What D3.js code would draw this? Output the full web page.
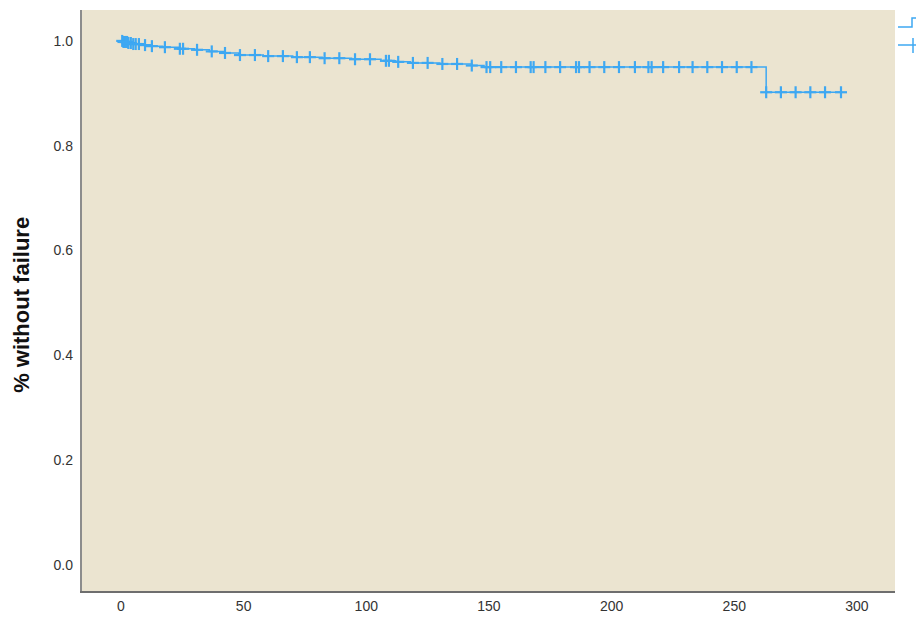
<!DOCTYPE html>
<html lang="en">
<head>
<meta charset="UTF-8">
<title>% without failure</title>
<style>
  body, html { margin: 0; padding: 0; background: #fff; font-family: "Liberation Sans", Arial, sans-serif; }
  #chart { width: 916px; height: 617px; overflow: hidden; }
</style>
<script src="https://d3js.org/d3.v7.min.js"></script>
</head>
<body>
<div id="chart"></div>
<script>
// event times (steps) and the survival level after each one
const eventTimes = [1, 3, 5, 8, 12, 17, 24, 30, 36, 42, 48, 58, 70, 82, 94, 106, 112, 118, 130, 143, 148, 263];
const survival = [0.998, 0.996, 0.994, 0.992, 0.990, 0.988, 0.985, 0.983, 0.980, 0.977, 0.973, 0.971, 0.969, 0.967, 0.965, 0.962, 0.960, 0.958, 0.956, 0.953, 0.950, 0.902];
// censored observations
const censorTimes = [0.5, 1, 1.5, 2, 2.5, 3, 4, 5, 6, 7.3, 9.8, 12.6, 17.9, 24, 25.3, 31, 37, 42.4, 48.5, 54.6, 60,
  66, 71.7, 77, 83, 89, 95.4, 101.5, 108, 109.2, 113, 119, 125, 131, 137, 143, 149, 150.5, 155, 161, 167, 168.2,
  173, 179, 185.5, 186.7, 191, 197, 203, 209.5, 215, 216.3, 221, 227.5, 233, 239, 245, 251, 257, 263, 269, 275, 281, 287, 293.5];
const xTicks = [0, 50, 100, 150, 200, 250, 300];
const yTicks = [0.0, 0.2, 0.4, 0.6, 0.8, 1.0];

const width = 916, height = 617;
const blue = "#3ea8f2";
const svg = d3.select("#chart").append("svg")
  .attr("width", width).attr("height", height);

const x = d3.scaleLinear().domain([-16.3, 314.7]).range([81, 893]);
const y = d3.scaleLinear().domain([-0.05, 1.059]).range([591, 10]);

// plot background
svg.append("rect")
  .attr("x", x.range()[0]).attr("y", y.range()[1])
  .attr("width", 895 - x.range()[0]).attr("height", y.range()[0] - y.range()[1])
  .attr("fill", "#ebe4d0");

// axes lines
svg.append("line").attr("x1", 81).attr("x2", 81).attr("y1", 10).attr("y2", 592)
  .attr("stroke", "#8c8c8c").attr("stroke-width", 2);
svg.append("line").attr("x1", 80).attr("x2", 895).attr("y1", 592).attr("y2", 592)
  .attr("stroke", "#6e6e6e").attr("stroke-width", 2);

// tick labels
svg.selectAll(".ytick").data(yTicks).join("text")
  .attr("x", 73).attr("y", d => y(d)).attr("dy", "0.35em")
  .attr("text-anchor", "end").attr("font-size", 14).attr("fill", "#333")
  .text(d => d.toFixed(1));
svg.selectAll(".xtick").data(xTicks).join("text")
  .attr("x", d => x(d)).attr("y", 611)
  .attr("text-anchor", "middle").attr("font-size", 14).attr("fill", "#333")
  .text(d => d);

svg.append("text")
  .attr("transform", `translate(29,${y(0.5) + 2}) rotate(-90)`)
  .attr("text-anchor", "middle").attr("font-size", 22).attr("font-weight", "bold")
  .attr("fill", "#111").text("% without failure");

// step curve
const pts = [[0, 1]];
eventTimes.forEach((t, i) => pts.push([t, survival[i]]));
const lastT = d3.max(censorTimes);
pts.push([lastT, survival[survival.length - 1]]);
const line = d3.line().x(d => x(d[0])).y(d => y(d[1])).curve(d3.curveStepAfter);
svg.append("path").datum(pts)
  .attr("d", line).attr("fill", "none").attr("stroke", blue).attr("stroke-width", 1.5);

function survAt(t) {
  let s = 1;
  eventTimes.forEach((e, i) => { if (e <= t) s = survival[i]; });
  return s;
}

// censor marks
const marks = svg.append("g").attr("stroke", blue).attr("stroke-width", 2.2);
censorTimes.forEach(t => {
  const cx = x(t), cy = y(survAt(t));
  marks.append("line").attr("x1", cx - 6).attr("x2", cx + 6).attr("y1", cy).attr("y2", cy);
  marks.append("line").attr("x1", cx).attr("x2", cx).attr("y1", cy - 6).attr("y2", cy + 6);
});

// legend (cut off at right edge)
const leg = svg.append("g").attr("stroke", blue).attr("stroke-width", 1.5).attr("fill", "none");
leg.append("path").attr("d", "M898,27 H912 V18 H920");
leg.append("path").attr("d", "M898,45 H920");
leg.append("path").attr("d", "M913,38 V53");
</script>
</body>
</html>
